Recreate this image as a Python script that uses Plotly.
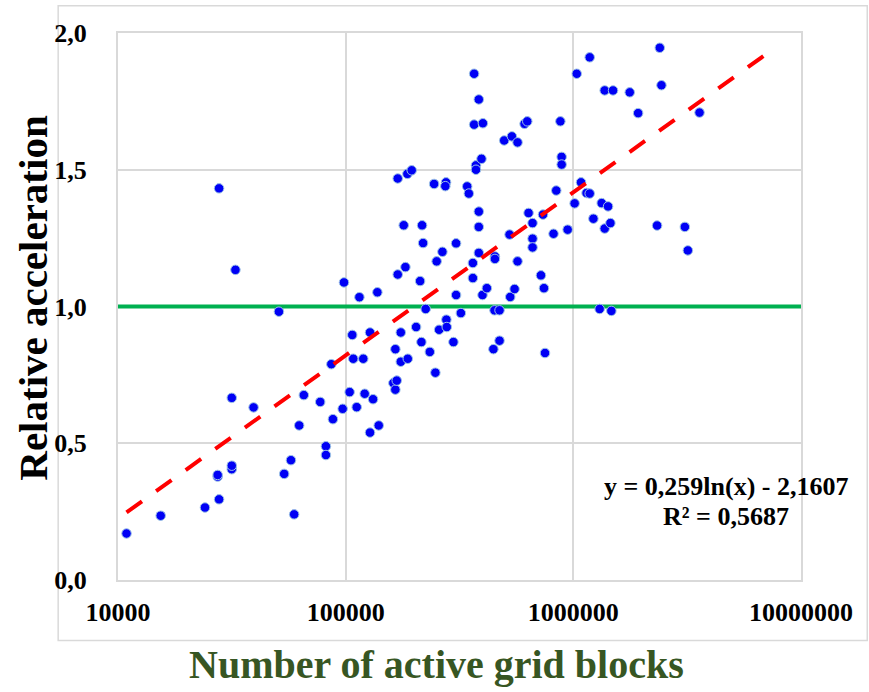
import numpy as np
import plotly.graph_objects as go

# ---- data ----
grid_blocks = [
    10900, 15400, 24100, 27800, 27400, 27400, 31600, 31600, 31600, 39400,
    27800, 32800, 50900, 53700, 57500, 59400, 62500, 65500, 77300, 81900,
    81900, 87900, 86500, 97000, 98300,
    104100, 106900, 108000, 111800, 114900, 119500, 121200, 127900, 127900, 131900,
    137800, 139700, 162000, 165300, 165300, 167600, 169300, 169300, 174600, 174600,
    179900, 183000, 186700, 187400, 195000, 203900, 212300, 215100, 216600, 218800,
    224700, 234200, 244600, 247800, 251000, 257300, 266000, 276000, 274000, 277000,
    278000, 297400, 305500, 305500, 320600, 341800, 347500, 362000, 362000, 366700,
    366700, 373600, 373600, 384400, 384400, 384400, 384400, 395000, 399000, 400600,
    417000, 445600, 450600, 452400, 452400, 474000, 474000, 497000, 524600, 528200,
    537000, 552000, 568800, 568800, 610600, 627600, 635800, 662000, 662000, 662000,
    720600, 735700, 743000, 750900, 818500, 841500, 877000, 888400, 888400, 944000,
    1013000, 1035000, 1081000, 1143000, 1180000, 1180000, 1225000, 1305000, 1332000, 1373000,
    1373000, 1421000, 1455000, 1469000, 1494000, 1769000, 1926000, 2333000, 2397000, 2438000,
    3089000, 3184000, 3583000,
]
relative_acceleration = [
    0.170, 0.235, 0.265, 0.295, 0.378, 0.384, 0.405, 0.418, 0.666, 0.631,
    1.432, 1.134, 0.981, 0.388, 0.438, 0.240, 0.565, 0.676, 0.651, 0.489,
    0.457, 0.588, 0.789, 0.626, 1.088,
    0.687, 0.896, 0.809, 0.632, 1.034, 0.809, 0.681, 0.905, 0.539, 0.661,
    1.052, 0.565, 0.720, 0.844, 0.696, 0.729, 1.117, 1.468, 0.905, 0.798,
    1.297, 1.144, 1.485, 0.809, 1.498, 0.925, 1.093, 0.870, 1.297, 1.232,
    0.991, 0.834, 1.448, 0.758, 1.165, 0.915, 1.200, 1.454, 1.440, 0.952,
    0.925, 0.870, 1.231, 1.042, 0.976, 1.439, 1.413, 1.159, 1.104, 1.851,
    1.665, 1.516, 1.500, 1.757, 1.347, 1.291, 1.196, 1.540, 1.042, 1.670,
    1.067, 0.844, 0.986, 1.183, 1.174, 0.986, 0.875, 1.607, 1.263, 1.035,
    1.622, 1.064, 1.600, 1.165, 1.668, 1.677, 1.342, 1.305, 1.248, 1.216,
    1.114, 1.336, 1.067, 0.830, 1.266, 1.424, 1.677, 1.547, 1.519, 1.281,
    1.377, 1.851, 1.454, 1.415, 1.413, 1.911, 1.321, 0.991, 1.378, 1.790,
    1.285, 1.366, 1.305, 0.984, 1.790, 1.783, 1.707, 1.296, 1.946, 1.809,
    1.291, 1.205, 1.709,
]

# logarithmic trend line shown on the chart: y = a ln(x) + b
trend_a = 0.259
trend_b = -2.1607
trend_x_end = 7.0e6
trend_equation = "y = 0,259ln(x) - 2,1607"
trend_r2 = "R² = 0,5687"

reference_x = [1e4, 1e7]
reference_y = [1.0, 1.0]

x_tick_values = [1e4, 1e5, 1e6, 1e7]
x_tick_labels = ["10000", "100000", "1000000", "10000000"]
y_tick_values = [0.0, 0.5, 1.0, 1.5, 2.0]
y_tick_labels = ["0,0", "0,5", "1,0", "1,5", "2,0"]

x_title = "Number of active grid blocks"
y_title = "Relative acceleration"

# ---- figure ----
FONT = "Liberation Serif, Times New Roman, serif"
GRID = "#D9D9D9"

trend_x = np.geomspace(min(grid_blocks), trend_x_end, 200)
trend_y = trend_a * np.log(trend_x) + trend_b

fig = go.Figure()
fig.add_trace(go.Scatter(
    x=reference_x, y=reference_y, mode="lines",
    line=dict(color="#00B050", width=4), hoverinfo="skip", showlegend=False))
fig.add_trace(go.Scatter(
    x=grid_blocks, y=relative_acceleration, mode="markers",
    marker=dict(color="#0000F5", size=9.5, line=dict(color="#9DC3E6", width=1)),
    showlegend=False))
fig.add_trace(go.Scatter(
    x=trend_x, y=trend_y, mode="lines",
    line=dict(color="#FF0000", width=4, dash="19px,17.4px"),
    hoverinfo="skip", showlegend=False))

tick_font = dict(family=FONT, size=26, color="black", weight="bold")

fig.update_layout(
    width=869, height=692,
    margin=dict(l=118, r=68, t=33, b=112),
    paper_bgcolor="white", plot_bgcolor="white",
    font=dict(family=FONT, color="black"),
    xaxis=dict(
        type="log", range=[4, 7],
        tickvals=x_tick_values, ticktext=x_tick_labels,
        showgrid=True, gridcolor=GRID, gridwidth=2,
        showline=True, linecolor=GRID, linewidth=2, mirror=True,
        zeroline=False, ticks="", ticklabelstandoff=8,
        tickfont=tick_font,
    ),
    yaxis=dict(
        range=[0, 2],
        tickvals=y_tick_values, ticktext=y_tick_labels,
        showgrid=True, gridcolor=GRID, gridwidth=2,
        showline=True, linecolor=GRID, linewidth=2, mirror=True,
        zeroline=False, ticks="", ticklabelstandoff=24,
        tickfont=tick_font,
    ),
    shapes=[dict(
        type="rect", xref="paper", yref="paper",
        x0=-0.0876, x1=1.097, y0=-0.1107, y1=1.050,
        line=dict(color=GRID, width=1.5), fillcolor="rgba(0,0,0,0)", layer="below")],
    annotations=[
        dict(text=trend_equation, xref="paper", yref="paper", x=0.8895, y=0.1706,
             xanchor="center", yanchor="middle", showarrow=False,
             font=dict(family=FONT, size=26, color="black", weight="bold")),
        dict(text=trend_r2, xref="paper", yref="paper", x=0.8895, y=0.1157,
             xanchor="center", yanchor="middle", showarrow=False,
             font=dict(family=FONT, size=26, color="black", weight="bold")),
        dict(text=y_title, xref="paper", yref="paper", x=-0.1245, y=0.516,
             xanchor="center", yanchor="middle", showarrow=False, textangle=-90,
             font=dict(family=FONT, size=41, color="black", weight="bold")),
        dict(text=x_title, xref="paper", yref="paper", x=0.467, y=-0.155,
             xanchor="center", yanchor="middle", showarrow=False,
             font=dict(family=FONT, size=40, color="#375623", weight="bold")),
    ],
)

fig.write_html("out.html")
